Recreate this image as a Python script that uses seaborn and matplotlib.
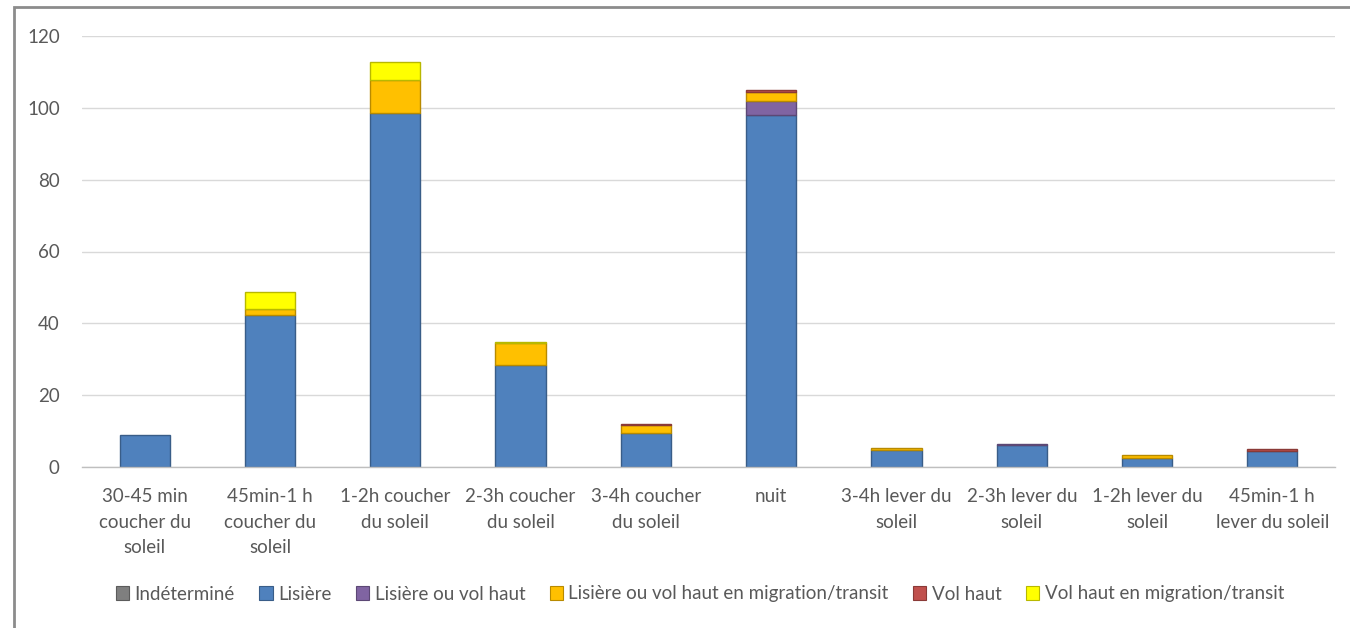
import matplotlib
matplotlib.use("Agg")
import matplotlib.pyplot as plt
import matplotlib.colors as mcolors
from matplotlib.patches import Patch, Rectangle
import pandas as pd
import seaborn as sns

# Time slots relative to sunset / sunrise
categories = [
    "30-45 min\ncoucher du\nsoleil",
    "45min-1 h\ncoucher du\nsoleil",
    "1-2h coucher\ndu soleil",
    "2-3h coucher\ndu soleil",
    "3-4h coucher\ndu soleil",
    "nuit",
    "3-4h lever du\nsoleil",
    "2-3h lever du\nsoleil",
    "1-2h lever du\nsoleil",
    "45min-1 h\nlever du soleil",
]

series = [
    "Indéterminé",
    "Lisière",
    "Lisière ou vol haut",
    "Lisière ou vol haut en migration/transit",
    "Vol haut",
    "Vol haut en migration/transit",
]

indetermine = [0, 0, 0, 0, 0, 0, 0, 0, 0, 0]
lisiere = [8.9, 42.3, 98.5, 28.4, 9.6, 98.0, 4.8, 6.0, 2.6, 4.5]
lisiere_vol_haut = [0, 0, 0, 0, 0, 3.8, 0, 0.5, 0, 0]
lisiere_vol_haut_migr = [0, 1.6, 9.3, 6.0, 2.0, 2.5, 0.6, 0, 0.7, 0]
vol_haut = [0, 0, 0, 0, 0.4, 0.6, 0, 0, 0, 0.4]
vol_haut_migr = [0, 4.9, 5.1, 0.5, 0, 0, 0, 0, 0, 0]

colors = ["#7F7F7F", "#4F81BD", "#8064A2", "#FFC000", "#C0504D", "#FFFF00"]

values = [indetermine, lisiere, lisiere_vol_haut, lisiere_vol_haut_migr,
          vol_haut, vol_haut_migr]

rows = []
for s, vals in zip(series, values):
    for c, v in zip(categories, vals):
        rows.append({"creneau": c, "type": s, "n": v})
df = pd.DataFrame(rows)
df["creneau"] = pd.Categorical(df["creneau"], categories=categories, ordered=True)

sns.set_theme(style="white")
plt.rcParams["font.family"] = ["Lato", "DejaVu Sans"]

fig = plt.figure(figsize=(13.5, 6.28), dpi=100)
ax = fig.add_axes([82 / 1350, 1 - 467 / 628, (1335 - 82) / 1350, (467 - 36) / 628])

palette = dict(zip(series, colors))
# histplot stacks the last hue level at the bottom, so reverse the order
sns.histplot(
    data=df, x="creneau", hue="type", weights="n",
    hue_order=series[::-1], palette=palette, multiple="stack",
    discrete=True, shrink=0.4, alpha=1, legend=False, ax=ax,
)

# darker outline of each segment, hide empty segments
for p in ax.patches:
    if p.get_height() <= 0:
        p.set_visible(False)
        continue
    fc = mcolors.to_rgb(p.get_facecolor())
    p.set_edgecolor(tuple(c * 0.72 for c in fc))
    p.set_linewidth(1.0)

ax.set_xlim(-0.5, len(categories) - 0.5)
ax.set_ylim(0, 120)
ax.set_yticks(range(0, 121, 20))
ax.set_xticks(range(len(categories)))
ax.set_xticklabels(categories, linespacing=1.62)
ax.set_xlabel("")
ax.set_ylabel("")
ax.yaxis.grid(True, color="#D9D9D9", linewidth=1.0)
ax.set_axisbelow(True)
for side in ["left", "right", "top"]:
    ax.spines[side].set_visible(False)
ax.spines["bottom"].set_color("#BFBFBF")
ax.spines["bottom"].set_linewidth(1.0)
ax.tick_params(axis="both", length=0, labelsize=13.5, labelcolor="#595959")
ax.tick_params(axis="y", pad=16)
ax.tick_params(axis="x", pad=15)

handles = [Patch(facecolor=c, edgecolor=tuple(v * 0.72 for v in mcolors.to_rgb(c)),
                 linewidth=0.8) for c in colors]
fig.legend(handles, series, loc="center", bbox_to_anchor=(700 / 1350, 1 - 594 / 628),
           ncol=6, frameon=False, fontsize=13.5, labelcolor="#595959",
           handlelength=0.7, handleheight=0.7, handletextpad=0.3,
           columnspacing=1.3)

# chart frame
fig.add_artist(Rectangle((14 / 1350, -0.05), 1.1, 1 - 7 / 628 + 0.05,
                         transform=fig.transFigure, fill=False,
                         edgecolor="#8C8C8C", linewidth=2.0))

fig.savefig("out.png", dpi=100, facecolor="white")
